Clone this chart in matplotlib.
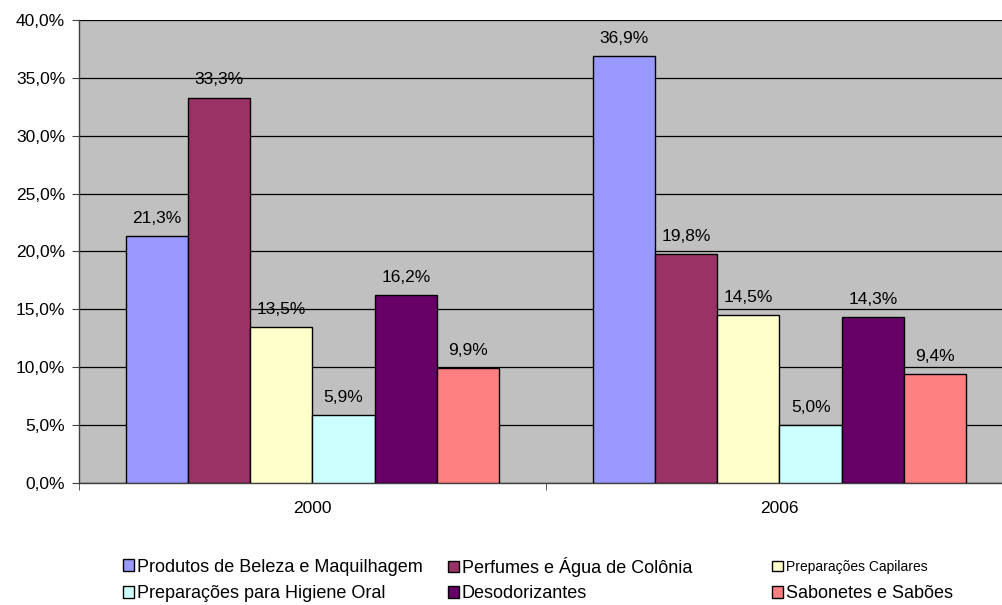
import matplotlib
matplotlib.use("Agg")
import matplotlib.pyplot as plt
import numpy as np
from matplotlib.patches import Patch

plt.rcParams["font.family"] = ["Liberation Sans", "DejaVu Sans"]

years = ["2000", "2006"]
series = [
    "Produtos de Beleza e Maquilhagem",
    "Perfumes e Água de Colônia",
    "Preparações Capilares",
    "Preparações para Higiene Oral",
    "Desodorizantes",
    "Sabonetes e Sabões",
]
values = [
    [21.3, 36.9],
    [33.3, 19.8],
    [13.5, 14.5],
    [5.9, 5.0],
    [16.2, 14.3],
    [9.9, 9.4],
]
colors = ["#9999FF", "#993366", "#FFFFCC", "#CCFFFF", "#660066", "#FF8080"]

W, H = 1003, 605
fig = plt.figure(figsize=(W / 100, H / 100), dpi=100)
# plot area runs a little past the right edge of the image, like the original
ax = fig.add_axes([79 / W, 1 - 483 / H, (1013 - 79) / W, 463 / H])
ax.set_facecolor("#C0C0C0")

# Excel-style clustered bars: gap width 150%
bw = 1 / 7.5
x = np.arange(len(years))
handles = []
for i, (name, vals, c) in enumerate(zip(series, values, colors)):
    pos = x - 3 * bw + bw / 2 + i * bw
    bars = ax.bar(pos, vals, width=bw, color=c, edgecolor="black", linewidth=1, zorder=3)
    for b, v in zip(bars, vals):
        ax.annotate(f"{v:.1f}%".replace(".", ","), (b.get_x() + b.get_width() / 2, v),
                    xytext=(0, 9.5), textcoords="offset points",
                    ha="center", va="baseline", fontsize=12.5, zorder=4)
    handles.append(Patch(facecolor=c, edgecolor="black", linewidth=1, label=name))

ax.set_xlim(-0.5, 1.5)
ax.set_ylim(0, 40)
ticks = np.arange(0, 41, 5)
ax.set_yticks(ticks)
ax.set_yticklabels([f"{t:.1f}%".replace(".", ",") for t in ticks], fontsize=12.5)
ax.yaxis.grid(True, color="black", linewidth=0.9, zorder=1)
ax.set_axisbelow(True)

ax.set_xticks(x)
ax.set_xticklabels(years, fontsize=12.5)
ax.set_xticks([-0.5, 0.5, 1.5], minor=True)
ax.tick_params(axis="x", which="major", length=0, pad=13)
ax.tick_params(axis="x", which="minor", length=5, color="#404040")
ax.tick_params(axis="y", length=5, color="#404040", pad=5)

for s in ["top", "right"]:
    ax.spines[s].set_visible(False)
for s in ["left", "bottom"]:
    ax.spines[s].set_color("#404040")
    ax.spines[s].set_linewidth(1)

# legend: one entry per spot, laid out in 2 rows x 3 columns
col_x = [123, 448, 772]
row_y = [567, 594]
for k, h in enumerate(handles):
    r, c = divmod(k, 3)
    fs = 10 if h.get_label() == "Preparações Capilares" else 13
    px = fs * 100 / 72
    fig.legend(handles=[h], loc="center left",
               bbox_to_anchor=(col_x[c] / W, 1 - row_y[r] / H), frameon=False,
               fontsize=fs, handlelength=11 / px, handleheight=11 / px,
               handletextpad=3 / px, borderaxespad=0, borderpad=0)

fig.savefig("out.png", dpi=100, facecolor="white")
